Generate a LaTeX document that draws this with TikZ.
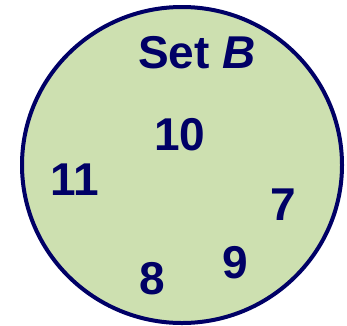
\documentclass[tikz,border=0pt]{standalone}
\usepackage{fontspec}
\setmainfont{Liberation Sans}
\definecolor{setfill}{RGB}{205,224,176}
\definecolor{navy}{RGB}{0,0,102}
\begin{document}
\begin{tikzpicture}[x=1pt,y=-1pt,
  elem/.style={inner sep=0pt, text=navy, font=\fontsize{46}{50}\selectfont\bfseries}]
\useasboundingbox (0,0) rectangle (347,325);
\draw[navy, line width=4pt, fill=setfill] (182,165) ellipse [x radius=160, y radius=158];
\node[elem] (title) at (197,53) {Set \textit{B}};
\node[elem] (n10) at (180,135) {10};
\node[elem] (n11) at (75,180) {11};
\node[elem] (n7) at (283,205) {7};
\node[elem] (n9) at (235,263) {9};
\node[elem] (n8) at (152,279) {8};
\end{tikzpicture}
\end{document}
